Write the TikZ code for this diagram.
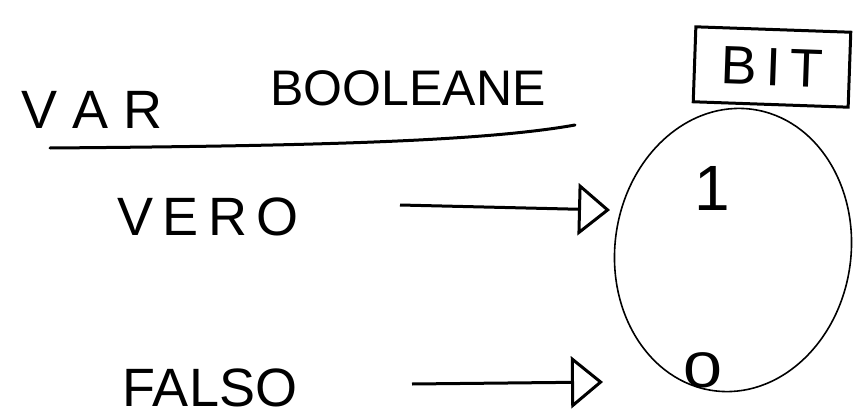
\documentclass[tikz,border=0pt]{standalone}
\usepackage{fontspec}
\setmainfont{Liberation Sans}
\usetikzlibrary{arrows.meta,shapes.geometric}
\begin{document}
\begin{tikzpicture}[x=1pt,y=-1pt,
  hand/.style={font=\fontsize{54}{60}\selectfont, inner sep=0pt},
  smallhand/.style={font=\fontsize{50}{56}\selectfont, inner sep=0pt},
  link/.style={line width=3pt, -{Triangle[open, length=32pt, width=52pt, line width=3pt]}},
  stroke/.style={line width=3pt, line cap=round}]
\useasboundingbox[fill=white] (0,0) rectangle (854,420);
% title
\node[hand] (var) at (92,110) {V\kern15pt A\kern15pt R};
\node[smallhand] (bool) at (408,88) {BOOLEANE};
\coordinate (ul1) at (50,148);
\coordinate (ul2) at (575,125);
\draw[stroke] (ul1) .. controls (300,146) and (480,142) .. (ul2);
% labels
\node[hand] (vero) at (208,217) {V\kern9pt E\kern9pt R\kern9pt O};
\node[hand] (falso) at (210,388) {FALSO};
% bit ellipse
\node[draw, ellipse, line width=1.6pt, minimum width=236pt, minimum height=284pt, rotate=-8] (bit) at (733,250) {};
\node[font=\fontsize{64}{70}\selectfont, inner sep=0pt] (one) at (712,188) {1};
\node[font=\fontsize{50}{56}\selectfont, inner sep=0pt] (zero) at (703,370) {\scalebox{1.4}[1]{0}};
% BIT box
\node[draw, line width=3pt, minimum width=155pt, minimum height=75pt, hand, rotate=-2] (bitlbl) at (772,67) {B\,I\,T};
% arrows
\coordinate (vs) at (400,205);
\coordinate (ve) at (610,210);
\coordinate (fs) at (412,384);
\coordinate (fe) at (603,382);
\draw[link] (vs) -- (ve);
\draw[link] (fs) -- (fe);
\end{tikzpicture}
\end{document}
